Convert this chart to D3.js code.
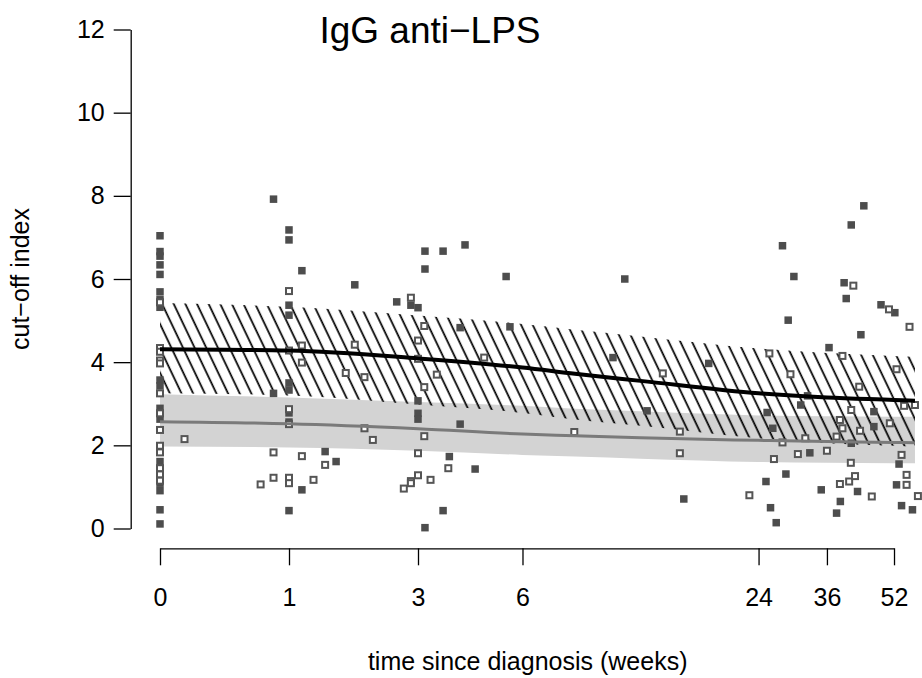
<!DOCTYPE html>
<html>
<head>
<meta charset="utf-8">
<script src="https://cdn.jsdelivr.net/npm/d3@7"></script>
<style>
  body { margin: 0; background: #fff; }
  text { font-family: "Liberation Sans", Arial, Helvetica, sans-serif; }
</style>
</head>
<body>
<svg id="chart" width="922" height="678"></svg>
<script>
// x axis: weeks, drawn on a stretched (log-like) scale
const xTicks = [0, 1, 3, 6, 24, 36, 52];
const xTickUnits = [0, 1, 2, 2.81, 4.64, 5.17, 5.69]; // spacing
const yTicks = [0, 2, 4, 6, 8, 10, 12];

// fitted curves, sampled at these weeks
const curveWeeks = [0, 1, 3, 6, 10, 15, 24, 36, 52, 57];
const fitBlack   = [4.31, 4.28, 4.09, 3.87, 3.72, 3.55, 3.25, 3.15, 3.09, 3.07];
const hatchHi    = [5.42, 5.33, 5.12, 4.92, 4.78, 4.62, 4.33, 4.22, 4.15, 4.13];
const hatchLo    = [3.25, 3.20, 2.98, 2.78, 2.62, 2.47, 2.17, 2.05, 1.99, 1.97];
const fitGrey    = [2.57, 2.52, 2.40, 2.27, 2.23, 2.18, 2.12, 2.09, 2.07, 2.06];
const greyHi     = [3.23, 3.15, 3.04, 2.95, 2.88, 2.82, 2.72, 2.70, 2.69, 2.69];
const greyLo     = [1.97, 1.95, 1.87, 1.77, 1.73, 1.68, 1.60, 1.58, 1.57, 1.57];

// observations [week, cut-off index]
const filledPts = [
  [0, 7.04], [0, 6.66], [0, 6.55], [0, 6.34], [0, 6.11], [0, 5.69], [0, 5.50], [0, 5.32],
  [0, 3.57], [0, 3.43], [0, 2.89], [0, 2.63], [0, 1.61], [0, 1.09], [0, 0.91], [0, 0.45], [0, 0.11],
  [0.88, 7.92], [0.88, 3.25],
  [1, 7.18], [1, 6.94], [1, 5.37], [1, 5.13], [1, 3.50], [1, 3.33], [1, 2.78], [1, 2.56], [1, 0.43],
  [1.2, 6.2], [1.2, 0.93], [1.56, 1.85], [1.73, 1.61], [2.02, 5.86], [2.67, 5.45], [2.89, 5.37],
  [3, 5.31], [3, 3.07], [3, 2.77], [3, 2.63],
  [3.2, 6.67], [3.2, 6.24], [3.2, 0.02], [3.72, 6.67], [3.72, 0.43], [3.9, 1.73],
  [4.21, 4.83], [4.21, 2.51], [4.35, 6.82], [4.64, 1.43], [5.53, 6.06], [5.64, 4.85],
  [12.9, 4.11], [13.8, 6.0], [15.5, 2.83], [18.3, 0.71], [20.2, 3.97],
  [25.3, 1.13], [25.5, 2.79], [26.1, 0.50], [26.5, 2.41], [27.1, 0.14], [28.2, 6.80],
  [28.8, 1.31], [29.2, 5.01], [30.2, 6.06], [31.4, 2.97], [32.6, 3.19], [33.0, 1.82],
  [35.0, 0.93], [36.5, 4.35], [38.3, 0.37], [39.2, 0.65], [40.1, 5.91], [40.6, 5.53],
  [41.8, 7.30], [41.8, 2.05], [43.3, 0.89], [44.1, 4.66], [44.8, 7.76], [47.2, 2.81],
  [47.2, 2.45], [48.9, 5.38], [52.2, 5.19], [52.6, 1.05], [53.2, 1.55], [53.8, 0.55], [56.4, 0.45]
];
const openPts = [
  [0, 5.44], [0, 4.34], [0, 4.25], [0, 4.04], [0, 3.97], [0, 3.25], [0, 2.77], [0, 2.37],
  [0, 1.99], [0, 1.83], [0, 1.45], [0, 1.30], [0, 1.15],
  [0.19, 2.15], [0.78, 1.06], [0.88, 1.83], [0.88, 1.22],
  [1, 5.71], [1, 4.28], [1, 2.87], [1, 2.51], [1, 1.22], [1, 1.09],
  [1.2, 4.4], [1.2, 3.99], [1.2, 1.74], [1.38, 1.17], [1.56, 1.53], [1.88, 3.74], [2.02, 4.42],
  [2.17, 3.64], [2.17, 2.41], [2.3, 2.13], [2.78, 0.96], [2.89, 5.55], [2.89, 1.14], [2.89, 1.09],
  [3, 4.52], [3, 4.08], [3, 1.81], [3, 1.28], [3.18, 4.87], [3.18, 3.40], [3.18, 2.22],
  [3.36, 1.17], [3.54, 3.70], [3.87, 1.45], [4.9, 4.11], [9.95, 2.32], [16.7, 3.73],
  [18.0, 2.33], [18.0, 1.81], [23.3, 0.80], [25.9, 4.21], [26.7, 1.67], [28.2, 2.07],
  [29.6, 3.71], [30.9, 1.79], [32.2, 2.17], [36.0, 1.87], [38.3, 2.21], [39.1, 2.61],
  [39.1, 1.07], [39.7, 4.15], [39.7, 2.41], [41.3, 1.13], [41.7, 1.58], [41.8, 2.85],
  [42.3, 5.84], [42.7, 1.26], [43.7, 3.41], [43.9, 2.35], [46.7, 0.77], [50.8, 5.27],
  [51.0, 2.53], [52.6, 3.83], [53.8, 1.77], [54.4, 2.95], [55.0, 1.29], [55.0, 1.05],
  [55.7, 4.85], [57.0, 2.97], [57.7, 0.78]
];

const svg = d3.select('#chart');

// scales
const unit = d3.scaleLinear().domain([0, 1]).range([160, 289]);
const x = d3.scaleLinear().domain(xTicks).range(xTickUnits.map(unit));
const y = d3.scaleLinear().domain([0, 12]).range([528.5, 29.5]);

const curveRows = curveWeeks.map((w, i) => ({
  w, black: fitBlack[i], hHi: hatchHi[i], hLo: hatchLo[i],
  grey: fitGrey[i], gHi: greyHi[i], gLo: greyLo[i]
}));

// hatch pattern for the upper band
const defs = svg.append('defs');
defs.append('pattern')
    .attr('id', 'hatch')
    .attr('patternUnits', 'userSpaceOnUse')
    .attr('width', 10.5)
    .attr('height', 10)
    .attr('patternTransform', 'rotate(-25.5)')
  .append('line')
    .attr('x1', 5).attr('y1', -2)
    .attr('x2', 5).attr('y2', 12)
    .attr('stroke', '#000')
    .attr('stroke-width', 1.75);

const area = (hi, lo) => d3.area()
  .x(d => x(d.w))
  .y0(d => y(d[lo]))
  .y1(d => y(d[hi]))
  .curve(d3.curveMonotoneX);

const line = key => d3.line()
  .x(d => x(d.w))
  .y(d => y(d[key]))
  .curve(d3.curveMonotoneX);

// grey band, then hatched band
svg.append('path')
  .datum(curveRows)
  .attr('d', area('gHi', 'gLo'))
  .attr('fill', '#d3d3d3');

svg.append('path')
  .datum(curveRows)
  .attr('d', area('hHi', 'hLo'))
  .attr('fill', 'url(#hatch)');

// points
const sz = 7.5;
svg.append('g')
  .selectAll('rect')
  .data(filledPts)
  .join('rect')
  .attr('x', d => x(d[0]) - sz / 2)
  .attr('y', d => y(d[1]) - sz / 2)
  .attr('width', sz)
  .attr('height', sz)
  .attr('fill', '#4d4d4d');

const so = 6;
svg.append('g')
  .selectAll('rect')
  .data(openPts)
  .join('rect')
  .attr('x', d => x(d[0]) - so / 2)
  .attr('y', d => y(d[1]) - so / 2)
  .attr('width', so)
  .attr('height', so)
  .attr('fill', '#fff')
  .attr('stroke', '#555')
  .attr('stroke-width', 2);

// fitted lines
svg.append('path')
  .datum(curveRows)
  .attr('d', line('grey'))
  .attr('fill', 'none')
  .attr('stroke', '#7a7a7a')
  .attr('stroke-width', 3);

svg.append('path')
  .datum(curveRows)
  .attr('d', line('black'))
  .attr('fill', 'none')
  .attr('stroke', '#000')
  .attr('stroke-width', 4);

// axes
const yAxis = svg.append('g')
  .attr('transform', 'translate(130.7,0)')
  .call(d3.axisLeft(y).tickValues(yTicks).tickSize(17).tickSizeOuter(0).tickPadding(9));

const xAxis = svg.append('g')
  .attr('transform', 'translate(0,548.3)')
  .call(d3.axisBottom(x).tickValues(xTicks).tickFormat(d3.format('d'))
    .tickSize(17).tickSizeOuter(0).tickPadding(23));

[yAxis, xAxis].forEach(g => {
  g.selectAll('path, line').attr('stroke', '#000').attr('stroke-width', 1.3);
  g.selectAll('text').attr('font-size', 25).attr('fill', '#000')
    .attr('font-family', '"Liberation Sans", Arial, sans-serif');
});

// titles
svg.append('text')
  .attr('x', 430).attr('y', 43)
  .attr('text-anchor', 'middle')
  .attr('font-size', 37)
  .text('IgG anti\u2212LPS');

svg.append('text')
  .attr('x', 527.7).attr('y', 670)
  .attr('text-anchor', 'middle')
  .attr('font-size', 25)
  .text('time since diagnosis (weeks)');

svg.append('text')
  .attr('transform', 'translate(29,279) rotate(-90)')
  .attr('text-anchor', 'middle')
  .attr('font-size', 25)
  .text('cut\u2212off index');
</script>
</body>
</html>
